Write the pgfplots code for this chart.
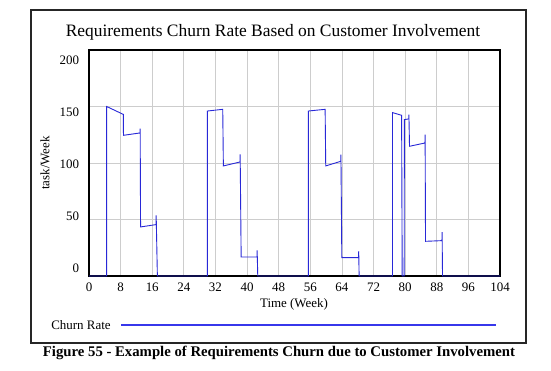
\documentclass[border=0pt]{standalone}
\usepackage{fontspec}
\setmainfont{Liberation Serif}
\usepackage{pgfplots}
\pgfplotsset{compat=1.18}
\definecolor{churn}{RGB}{40,40,215}
\definecolor{legc}{RGB}{55,55,235}
\definecolor{gridc}{RGB}{205,205,205}
\begin{document}
\begin{tikzpicture}[x=1bp,y=1bp]
\useasboundingbox (0,0) rectangle (551,370);
\draw[line width=1.4bp, black!85] (31,27) rectangle (526,360);
\node[font=\fontsize{17.5}{20}\selectfont] at (273,338) {Requirements Churn Rate Based on Customer Involvement};
\begin{axis}[
  at={(89bp,94bp)}, anchor=south west,
  scale only axis, width=411bp, height=226bp,
  xmin=0, xmax=104, ymin=0, ymax=200,
  xtick={0,8,...,104}, ytick={0,50,...,200},
  /pgf/number format/assume math mode=true,
  grid=major, major grid style={gridc, line width=0.8bp},
  axis line style={line width=1.2bp, black},
  tick style={draw=none},
  ticklabel style={font=\fontsize{13}{15}\selectfont},
  xticklabel style={yshift=-3bp},
  yticklabel style={anchor=east, xshift=-6.5bp},
  yticklabel={\pgfmathsetmacro\rr{3.6-4.5*\ticknum}\smash{\raisebox{\rr bp}{\pgfmathprintnumber{\tick}}}},
  clip=false,
]
\addplot[churn, line width=0.9bp] coordinates {
(0,0) (4.47,0) (4.47,150) (8.69,143) (8.72,124.5) (12.91,126.6) (12.95,130.4) (13.05,43.4)
(16.96,45.5) (17.0,53.7) (17.3,0)
(29.96,0) (29.96,146) (33.84,147.5) (34.0,97.4) (38.2,100.9) (38.25,107.7) (38.5,16.8)
(42.5,16.8) (42.55,22.7) (42.7,0)
(55.5,0) (55.5,146) (59.75,147.5) (59.9,97.4) (63.7,101.5) (63.75,107.4) (63.97,16.3)
(68.2,16.3) (68.25,21.9) (68.35,0)
(76.8,0) (76.8,144.6) (79.1,142.2) (79.25,0) (79.75,0) (79.8,138.4) (80.9,139) (80.95,142.8)
(81.1,114.8) (85.0,117.7) (85.05,125.1) (85.15,30.7) (89.3,31.3) (89.35,38.9) (89.45,0) (104,0)
};
\end{axis}
\node[rotate=90, font=\fontsize{13}{15}\selectfont] at (45,207) {task/Week};
\node[font=\fontsize{13}{15}\selectfont] at (294,66) {Time (Week)};
\node[font=\fontsize{13}{15}\selectfont] at (81,45) {Churn Rate};
\draw[legc, line width=1.2bp] (121,45) -- (496,45);
\node[font=\fontsize{14.8}{17}\selectfont\bfseries] at (279,17) {Figure 55 - Example of Requirements Churn due to Customer Involvement};
\end{tikzpicture}
\end{document}
